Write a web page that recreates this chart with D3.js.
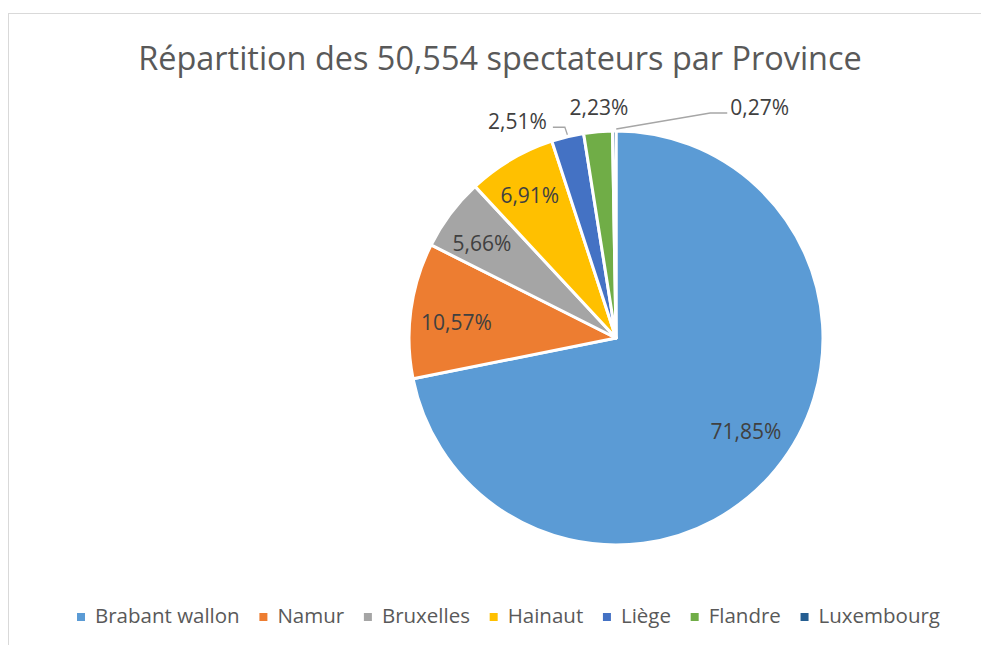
<!DOCTYPE html>
<html><head><meta charset="utf-8">
<script src="https://cdn.jsdelivr.net/npm/d3@7"></script>
<style>body{margin:0;background:#fff}svg{display:block}text{font-family:"Open Sans",Carlito,Calibri,sans-serif}</style>
</head><body>
<svg id="c" width="981" height="645"></svg>
<script>
const title = "Répartition des 50,554 spectateurs par Province";
const categories = ["Brabant wallon","Namur","Bruxelles","Hainaut","Liège","Flandre","Luxembourg"];
const values = [71.85,10.57,5.66,6.91,2.51,2.23,0.27];
const labels = ["71,85%","10,57%","5,66%","6,91%","2,51%","2,23%","0,27%"];
const colors = ["#5B9BD5","#ED7D31","#A5A5A5","#FFC000","#4472C4","#70AD47","#255E91"];

const svg = d3.select("#c");
svg.append("rect").attr("x",8.5).attr("y",13.5).attr("width",1000).attr("height",700)
  .attr("fill","none").attr("stroke","#D9D9D9").attr("stroke-width",1);

function fit(sel, target){
  const w = sel.node().getComputedTextLength();
  const fs = parseFloat(sel.attr("font-size"));
  sel.attr("font-size", fs*target/w);
}
const t = svg.append("text").attr("x",500).attr("y",70).attr("text-anchor","middle")
  .attr("font-size",30).attr("fill","#595959").text(title);
fit(t, 724);

const cx = 616, cy = 338, R = 207;
const pie = d3.pie().sort(null).value(d=>d)(values);
const arc = d3.arc().innerRadius(0).outerRadius(R);
const g = svg.append("g").attr("transform",`translate(${cx},${cy})`);
g.selectAll("path").data(pie).join("path").attr("d",arc)
  .attr("fill",(d,i)=>colors[i]).attr("stroke","#fff").attr("stroke-width",3).attr("stroke-linejoin","round");

// label placement styles
const place = [
  {r:159, dx:7, dy:-8},
  {r:161, dy:6},
  {r:164, dx:-3, dy:3},
  {r:166, dx:-2},
  {leader:"elbow"},
  {r:232, dx:3},
  {leader:"diag"}
];
const pt = (a,r)=>[Math.sin(a)*r, -Math.cos(a)*r];
pie.forEach((d,i)=>{
  const a = (d.startAngle+d.endAngle)/2, p = place[i];
  const txt = g.append("text").attr("font-size",21).attr("fill","#404040")
    .attr("dominant-baseline","central").text(labels[i]);
  const [ex,ey] = pt(a,R+1);
  if (p.leader==="elbow"){
    txt.attr("x",ex-20.5).attr("y",ey-15).attr("text-anchor","end");
    g.append("path").attr("d",`M${ex-14.5},${ey-8.5}H${ex-2.5}L${ex},${ey-1}`)
      .attr("fill","none").attr("stroke","#A6A6A6").attr("stroke-width",1.3);
  } else if (p.leader==="diag"){
    const kx = ex+96, ky = ey-17;
    g.append("path").attr("d",`M${ex+2},${ey-1}L${kx},${ky}H${kx+17}`)
      .attr("fill","none").attr("stroke","#A6A6A6").attr("stroke-width",1.3);
    txt.attr("x",kx+20).attr("y",ky-6).attr("text-anchor","start");
  } else {
    const [x0,y0] = pt(a,p.r);
    txt.attr("x",x0+(p.dx||0)).attr("y",y0+(p.dy||0)).attr("text-anchor","middle");
  }
});

// legend
const lg = svg.append("g");
const lfs = 20.5;
const items = categories.map((c,i)=>{
  const it = lg.append("g");
  it.append("rect").attr("x",0).attr("y",-2).attr("width",8).attr("height",8).attr("fill",colors[i]);
  const tx = it.append("text").attr("x",18).attr("y",0).attr("dominant-baseline","central")
    .attr("font-size",lfs).attr("fill","#595959").text(c);
  return {it, w:18+tx.node().getComputedTextLength()};
});
const span = 940-77;
const gap = (span - d3.sum(items,d=>d.w))/(items.length-1);
let xpos = 77;
items.forEach(d=>{
  d.it.attr("transform",`translate(${xpos},615)`);
  xpos += d.w+gap;
});
</script>
</body></html>
